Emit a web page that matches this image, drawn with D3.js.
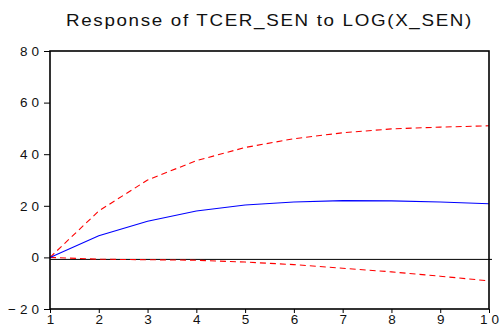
<!DOCTYPE html>
<html>
<head>
<meta charset="utf-8">
<script src="https://cdn.jsdelivr.net/npm/d3@7.9.0/dist/d3.min.js"></script>
<style>
  body { margin: 0; background: #fff; }
  svg text { font-family: "Liberation Sans", Arial, sans-serif; fill: #111; }
</style>
</head>
<body>
<svg id="chart" width="502" height="334"></svg>
<script>
// impulse response data
const periods = [1, 2, 3, 4, 5, 6, 7, 8, 9, 10];
const response = [0, 8.4, 14.0, 18.0, 20.3, 21.5, 22.0, 21.9, 21.5, 20.8];
const upperBand = [0, 18.0, 30.0, 37.5, 42.6, 46.0, 48.3, 49.8, 50.5, 51.0];
const lowerBand = [0, -0.7, -0.9, -1.1, -1.8, -2.8, -4.2, -5.6, -7.3, -9.1];
const yTicks = [-20, 0, 20, 40, 60, 80];
const title = 'Response of TCER_SEN to LOG(X_SEN)';

const svg = d3.select('#chart');
const margin = { left: 50, right: 13, top: 51, bottom: 25 };
const W = 502, H = 334;
const spacing = 4;

const x = d3.scaleLinear().domain([1, 10]).range([margin.left, W - margin.right]);
const y = d3.scaleLinear().domain([-20, 80]).range([H - margin.bottom, margin.top]);

// title
svg.append('text')
  .attr('x', 66)
  .attr('y', 26)
  .style('font-size', '17px')
  .style('letter-spacing', '1.5px')
  .attr('textLength', 407)
  .attr('lengthAdjust', 'spacingAndGlyphs')
  .text(title);

// zero line
svg.append('line')
  .attr('x1', x(1)).attr('x2', x(10) + 3)
  .attr('y1', y(0) + 2).attr('y2', y(0) + 2)
  .attr('stroke', '#000').attr('stroke-width', 1);

const line = d3.line().x((d, i) => x(periods[i])).y(d => y(d));

// confidence bands
[upperBand, lowerBand].forEach(band => {
  svg.append('path')
    .datum(band)
    .attr('d', line)
    .attr('fill', 'none')
    .attr('stroke', '#ff0000')
    .attr('stroke-width', 1.1)
    .attr('stroke-dasharray', '6,4');
});

// response
svg.append('path')
  .datum(response)
  .attr('d', line)
  .attr('fill', 'none')
  .attr('stroke', '#0000ff')
  .attr('stroke-width', 1.1);

// frame
svg.append('rect')
  .attr('x', x(1)).attr('y', y(80))
  .attr('width', x(10) - x(1)).attr('height', y(-20) - y(80))
  .attr('fill', 'none').attr('stroke', '#000').attr('stroke-width', 1.6);

// y axis
const yAxis = svg.append('g')
  .attr('transform', `translate(${x(1)},0)`)
  .call(d3.axisLeft(y).tickValues(yTicks).tickSize(6).tickPadding(0).tickFormat(d3.format('d')));
yAxis.select('.domain').remove();
yAxis.selectAll('text')
  .style('font-size', '13.5px')
  .style('letter-spacing', spacing + 'px')
  .attr('dx', spacing - 5)
  .attr('fill', '#111');

// x axis
const xAxis = svg.append('g')
  .attr('transform', `translate(0,${y(-20)})`)
  .call(d3.axisBottom(x).tickValues(periods).tickSize(4).tickPadding(1).tickFormat(d3.format('d')));
xAxis.select('.domain').remove();
xAxis.selectAll('text')
  .style('font-size', '13.5px')
  .style('letter-spacing', spacing + 'px')
  .attr('dx', spacing / 2)
  .attr('fill', '#111');
</script>
</body>
</html>
